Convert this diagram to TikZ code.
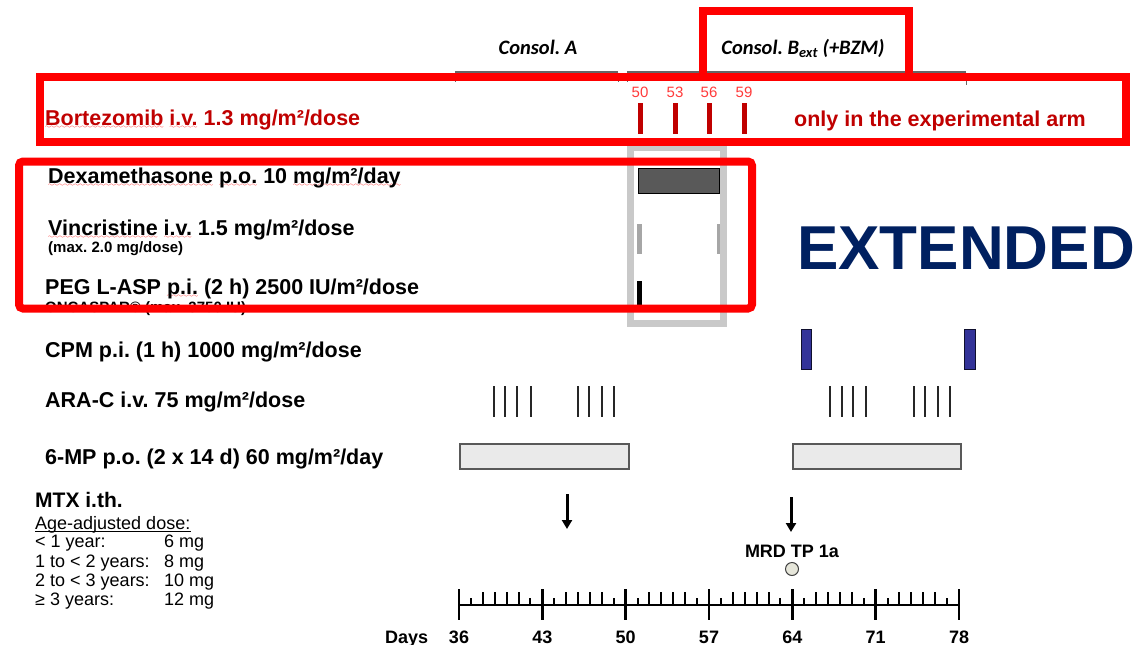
\documentclass[tikz,border=0pt]{standalone}
\usepackage{fontspec}
\setmainfont{Liberation Sans}
\newfontfamily\calib{Carlito}
\usetikzlibrary{arrows.meta}
\definecolor{dred}{HTML}{C00000}
\definecolor{bred}{HTML}{FF0000}
\definecolor{nred}{HTML}{FF3B3B}
\definecolor{navy}{HTML}{002060}
\definecolor{lgray}{HTML}{C9C9C9}
\definecolor{dgray}{HTML}{595959}
\definecolor{vgray}{HTML}{A6A6A6}
\definecolor{cpmblue}{HTML}{333399}
\definecolor{mpfill}{HTML}{EAEAEA}
\definecolor{dotfill}{HTML}{E6E6DA}
\font\mywavefont=lasy6
\newsavebox\splbox
\newcommand\spl[1]{\sbox\splbox{#1}\rlap{\raisebox{-3pt}[0pt][0pt]{\color{red}\hbox to \wd\splbox{\xleaders\hbox{\mywavefont\char58}\hfil}}}\usebox\splbox}
\frenchspacing
\tikzset{
  lab/.style={anchor=base west, inner sep=0pt, font=\fontsize{21.5}{24}\selectfont\bfseries},
  sublab/.style={anchor=base west, inner sep=0pt, font=\fontsize{15}{17}\selectfont\bfseries},
  agetxt/.style={anchor=base west, inner sep=0pt, font=\fontsize{18}{20}\selectfont},
  rnum/.style={anchor=base, inner sep=0pt, text=nred, font=\fontsize{15}{17}\selectfont},
  daynum/.style={anchor=base, inner sep=0pt, font=\fontsize{18}{20}\selectfont\bfseries},
  conslab/.style={anchor=base, inner sep=0pt, font=\calib\fontsize{20.5}{24}\selectfont\bfseries\itshape},
  phase/.style={draw=gray!80!black, line width=2.5pt},
  redbox/.style={draw=bred, line width=8pt},
  axisline/.style={line width=2.4pt},
  tickmark/.style={line width=2pt},
  arac/.style={draw=black!85, line width=1.3pt},
  mtxarrow/.style={line width=3pt, -{Triangle[width=10pt,length=9pt]}},
}
\begin{document}
\begin{tikzpicture}[x=1pt,y=-1pt]
\useasboundingbox (0,0) rectangle (1138,645);
\fill[white] (0,0) rectangle (1138,645);

% phase headers
\node[conslab] (consA) at (538,54) {Consol. A};
\node[conslab] (consB) at (803,54) {Consol. B\textsubscript{ext} (+BZM)};
\draw[phase] (455,72.5) -- (618,72.5);
\draw[gray!80!black, line width=1pt] (455,72.5) -- (455,82) (618,72.5) -- (618,82);
\draw[phase] (627,72.5) -- (966,72.5);
\draw[gray!80!black, line width=1pt] (627,72.5) -- (627,82) (966,72.5) -- (966,85);

% drug labels
\node[lab, text=dred] (bor) at (45,125.5) {\spl{Bortezomib} \spl{i.v.} 1.3 mg/m²/dose};
\node[lab, text=dred] (only) at (794,126) {only in the experimental arm};
\node[lab] (dex) at (48,183) {\spl{Dexamethasone} \spl{p.o.} 10 \spl{mg/m²/day}};
\node[lab] (vin) at (48,235) {\spl{Vincristine} \spl{i.v.} 1.5 mg/m²/dose};
\node[sublab] (vinmax) at (48,252) {(max. 2.0 mg/dose)};
\node[lab] (peg) at (45,294) {PEG L-ASP \spl{p.i.} (2 h) 2500 IU/m²/dose};
\node[sublab] (onc) at (45,312) {ONCASPAR® (max. 3750 IU)};
\node[lab] (cpm) at (45,357) {CPM p.i. (1 h) 1000 mg/m²/dose};
\node[lab] (ara) at (45,407) {ARA-C i.v. 75 mg/m²/dose};
\node[lab] (mp) at (45,464) {6-MP p.o. (2 x 14 d) 60 mg/m²/day};

% MTX block
\node[anchor=base west, inner sep=0pt, font=\fontsize{21}{24}\selectfont\bfseries] (mtx) at (35,507) {MTX i.th.};
\node[agetxt] (age) at (35,529) {Age-adjusted dose:};
\draw[line width=1pt] ([yshift=-2.5pt]age.base west) -- ([yshift=-2.5pt]age.base east);
\node[agetxt] (a1) at (35,547) {< 1 year:};
\node[agetxt] (d1) at (164,547) {6 mg};
\node[agetxt] (a2) at (35,567) {1 to < 2 years:};
\node[agetxt] (d2) at (164,567) {8 mg};
\node[agetxt] (a3) at (35,586) {2 to < 3 years:};
\node[agetxt] (d3) at (164,586) {10 mg};
\node[agetxt] (a4) at (35,605) {≥ 3 years:};
\node[agetxt] (d4) at (164,605) {12 mg};

% EXTENDED
\node[anchor=base west, inner sep=0pt, text=navy, font=\fontsize{62}{68}\selectfont\bfseries] (ext) at (797,269) {EXTENDED};

% Bortezomib doses
\foreach \bx/\bd in {640/50,675/53,709/56,744/59}{
  \node[rnum] (n\bd) at (\bx,97) {\bd};
  \fill[dred] (\bx-2.5,103) rectangle (\bx+2.5,134);
}

% gray highlight box
\draw[lgray, line width=7pt] (630.5,147) rectangle (723.5,323);

% Dexamethasone, Vincristine, PEG
\draw[fill=dgray, draw=black, line width=1pt] (638,168) rectangle (719,193);
\fill[vgray] (637,224) rectangle (642,254);
\fill[vgray] (717,224) rectangle (720,254);
\fill[black] (637,281) rectangle (642,306);

% CPM
\draw[fill=cpmblue, draw=black!70!cpmblue, line width=1pt] (801,329) rectangle (811,369);
\draw[fill=cpmblue, draw=black!70!cpmblue, line width=1pt] (964,329) rectangle (975,369);

% ARA-C
\foreach \ax in {494,505,517,531,578,589,602,614,830,842,853,866,914,925,938,950}{
  \draw[arac] (\ax,386) -- (\ax,417);
}

% 6-MP
\draw[fill=mpfill, draw=dgray, line width=1.5pt] (460,444) rectangle (629,469);
\draw[fill=mpfill, draw=dgray, line width=1.5pt] (793,444) rectangle (961,469);

% MTX arrows
\coordinate (m1s) at (567,494);
\coordinate (m1e) at (567,529);
\coordinate (m2s) at (791,497);
\coordinate (m2e) at (791,532);
\draw[mtxarrow] (m1s) -- (m1e);
\draw[mtxarrow] (m2s) -- (m2e);

% MRD
\node[anchor=base, inner sep=0pt, font=\fontsize{18}{20}\selectfont\bfseries] (mrd) at (792,557) {MRD TP 1a};
\node[circle, draw=black!75, fill=dotfill, line width=1pt, minimum size=13pt, inner sep=0pt] (mrddot) at (792,569) {};

% Axis
\coordinate (ax0) at (459,605);
\coordinate (ax1) at (959,605);
\draw[axisline] (ax0) -- (ax1);
\foreach \d in {36,...,78}{
  \pgfmathtruncatemacro\r{mod(\d-36,7)}
  \pgfmathsetmacro\xx{459+(\d-36)*11.90476}
  \ifnum\r=0
    \draw[axisline] (\xx,589) -- (\xx,620);
  \else\ifnum\r=1
    \draw[tickmark] (\xx,598) -- (\xx,605);
  \else\ifnum\r=6
    \draw[tickmark] (\xx,598) -- (\xx,605);
  \else
    \draw[tickmark] (\xx,592) -- (\xx,605);
  \fi\fi\fi
}
\foreach \d in {36,43,50,57,64,71,78}{
  \pgfmathsetmacro\xx{459+(\d-36)*11.90476}
  \node[daynum] (day\d) at (\xx,643) {\d};
}
\node[anchor=base west, inner sep=0pt, font=\fontsize{18}{20}\selectfont\bfseries] (days) at (385,643) {Days};

% red boxes
\draw[redbox] (40,77) rectangle (1126,142);
\draw[redbox] (703,11) rectangle (909,77);
\draw[redbox, rounded corners=4pt] (19,161.5) rectangle (752,308.5);
\end{tikzpicture}
\end{document}
